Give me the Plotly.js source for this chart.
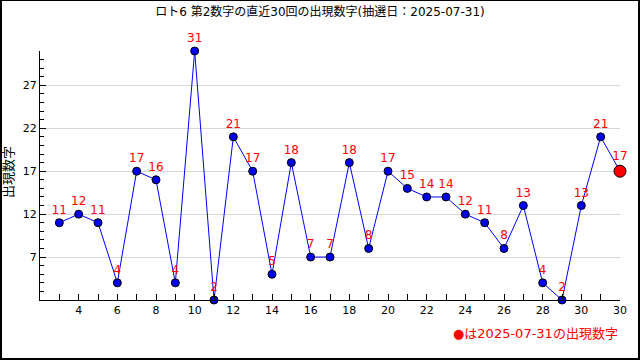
<!DOCTYPE html>
<html><head><meta charset="utf-8">
<script src="https://cdn.plot.ly/plotly-3.0.1.min.js"></script>
<style>
html,body{margin:0;padding:0;background:#fff;}
#wrap{position:relative;width:640px;height:360px;}
#chart{width:640px;height:360px;}
#frame{position:absolute;left:0;top:0;width:640px;height:360px;box-sizing:border-box;border-top:1px solid #000;border-right:2px solid #000;border-left:2px solid #000;border-bottom:2px solid #000;pointer-events:none;}
</style>
</head><body>
<div id="wrap"><div id="chart"></div><div id="frame"></div></div>
<script>
const draws = [3,4,5,6,7,8,9,10,11,12,13,14,15,16,17,18,19,20,21,22,23,24,25,26,27,28,29,30,31,32];
const numbers = [11,12,11,4,17,16,4,31,2,21,17,5,18,7,7,18,8,17,15,14,14,12,11,8,13,4,2,13,21,17];
const xTickVals = [4,6,8,10,12,14,16,18,20,22,24,26,28,30,32];
const xTickText = ["4","6","8","10","12","14","16","18","20","22","24","26","28","30","30"];
const yTickVals = [7,12,17,22,27];
const titleText = "ロト6 第2数字の直近30回の出現数字(抽選日：2025-07-31)";
const yTitle = "出現数字";
const noteText = "●は2025-07-31の出現数字";

const n = numbers.length;
const colors = numbers.map((v,i)=> i===n-1 ? "#ff0000" : "#0000ee");
const sizes = numbers.map((v,i)=> i===n-1 ? 12 : 8);
const font = "DejaVu Sans, Noto Sans CJK JP, sans-serif";

const trace = {
  x: draws, y: numbers, type: "scatter", mode: "lines+markers+text",
  text: numbers.map(String), textposition: "top center",
  textfont: {color: "#ff0000", size: 12, family: font},
  line: {color: "#0000ff", width: 1},
  marker: {color: colors, size: sizes, opacity: 1, line: {color: "#000", width: 1}},
  cliponaxis: false, hoverinfo: "none"
};

const layout = {
  width: 640, height: 360,
  margin: {l: 40, r: 20, t: 51, b: 60},
  paper_bgcolor: "#fff", plot_bgcolor: "#fff",
  showlegend: false,
  title: {text: titleText, font: {family: font, size: 12, color: "#000"}, x: 0.5, xanchor: "center", y: 1 - 12/360, yanchor: "middle", yref: "container"},
  xaxis: {
    range: [2, 32], tickvals: xTickVals, ticktext: xTickText,
    showline: true, linecolor: "#000", linewidth: 1, mirror: false,
    showgrid: false, zeroline: false,
    ticks: "inside", ticklen: 6, tickcolor: "#000",
    minor: {dtick: 1, tick0: 0, ticks: "inside", ticklen: 6, tickcolor: "#000", showgrid: false},
    tickfont: {family: font, size: 11, color: "#000"}
  },
  yaxis: {
    range: [2, 31], tickvals: yTickVals,
    showline: true, linecolor: "#000", linewidth: 1,
    showgrid: true, gridcolor: "#d8d8d8", gridwidth: 1, zeroline: false,
    ticks: "inside", ticklen: 6, tickcolor: "#000",
    minor: {dtick: 1, tick0: 0, ticks: "inside", ticklen: 4, tickcolor: "#000", showgrid: false},
    tickfont: {family: font, size: 11, color: "#000"}
  },
  annotations: [
    {text: yTitle, xref: "paper", yref: "paper", x: -32/580, y: 128/249, textangle: -90, showarrow: false, xanchor: "center", yanchor: "middle", font: {family: font, size: 13, color: "#000"}},
    {text: noteText, xref: "paper", yref: "paper", x: 1, y: -33/249, showarrow: false, xanchor: "right", yanchor: "middle", font: {family: font, size: 13, color: "#ff0000"}}
  ]
};

Plotly.newPlot("chart", [trace], layout, {displayModeBar: false, staticPlot: true});
</script>
</body></html>
